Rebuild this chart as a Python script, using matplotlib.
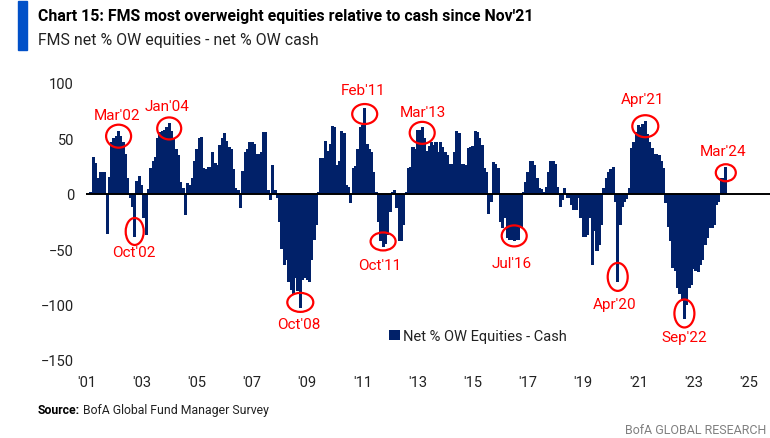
import matplotlib

matplotlib.use("Agg")
import matplotlib.pyplot as plt
import pandas as pd
from matplotlib.patches import Ellipse, Rectangle

plt.rcParams["font.family"] = ["Roboto", "DejaVu Sans"]

# monthly FMS net % OW equities minus net % OW cash, Mar 2001 .. Mar 2024
first_month = "2001-03-01"
last_month = "2024-03-01"
net_ow_eq_minus_cash = [
    2, 33, 28, 14, 20, 20, 20, -36, 15, 47,                      # 2001 (Mar-Dec)
    50, 52, 57, 52, 47, 36, 14, -4, -12, -39, 12, 16,            # 2002
    8, -22, -37, 4, 23, 30, 33, 50, 56, 57, 58, 60,              # 2003
    64, 57, 50, 40, 35, 11, 5, -19, 10, 8, 14, 30,               # 2004
    40, 50, 51, 23, 22, 24, 24, 38, 28, 26, 44, 50,              # 2005
    55, 48, 42, 40, 22, 5, 3, -13, 21, 38, 40, 47,               # 2006
    47, 45, 36, 36, 38, 56, 56, 3, -6, 26, 3, -4,                # 2007
    -25, -50, -64, -60, -80, -87, -91, -76, -88, -103, -78, -76, # 2008
    -78, -80, -60, -42, -28, 2, 32, 32, 48, 39, 45, 61,          # 2009
    60, 26, 30, 57, 55, 8, 6, -8, 23, 25, 40, 60,                # 2010
    62, 77, 45, 40, 38, 20, 2, -25, -43, -48, -45, -37,          # 2011
    -16, 2, 3, -13, -43, -43, -28, 2, 23, 24, 42, 40,            # 2012
    58, 58, 60, 50, 39, 43, 47, 44, 47, 38, 47, 42,              # 2013
    38, 35, 27, 27, 38, 57, 55, 27, 27, 26, 41, 42,              # 2014
    43, 57, 56, 50, 44, 23, 20, -18, -7, 29, 27, 23,             # 2015
    -25, -31, -22, -40, -42, -42, -43, -42, -42, -31, 2, 11,     # 2016
    20, 30, 30, 26, 14, 5, 4, 2, 6, 20, 30, 30,                  # 2017
    27, 6, -12, -6, 5, -4, -4, -10, -15, -15, -4, -22,           # 2018
    -39, -39, -37, -22, -64, -34, -52, -46, -28, 5, 14, 20,      # 2019
    22, 24, -7, -80, -28, -12, -7, -5, 5, 41, 47, 56,            # 2020
    62, 60, 63, 66, 54, 47, 41, 36, 36, 35, 30, 23,              # 2021
    -8, -30, -43, -67, -70, -85, -90, -97, -113, -100, -85, -82, # 2022
    -68, -70, -71, -64, -60, -46, -40, -31, -31, -28, -10, -7,   # 2023
    14, 14, 24,                                                  # 2024 (Jan-Mar)
]

callout_labels = ["Mar'02", "Oct'02", "Jan'04", "Oct'08", "Feb'11", "Oct'11",
                  "Mar'13", "Jul'16", "Apr'20", "Apr'21", "Sep'22", "Mar'24"]
callout_months = ["2002-03", "2002-10", "2004-01", "2008-10", "2011-02", "2011-10",
                  "2013-03", "2016-07", "2020-04", "2021-04", "2022-09", "2024-03"]
# ellipse size (px) and label offset (px) per callout
callout_size = [(25, 23), (18, 27), (24, 22), (26, 19), (25, 20), (25, 18),
                (25, 22), (25, 21), (20, 28), (26, 22), (20, 28), (20, 17)]
callout_offset = [(-2, 21), (-1, -21), (-2, 22), (-1, -22), (-2, 24), (-3, -24),
                  (1, 21), (-3, -27), (-3, -27), (-3, 27), (0, -24), (-3, 22)]

year_ticks = list(range(2001, 2026, 2))
year_tick_labels = ["'" + str(y)[2:] for y in year_ticks]

NAVY = "#012169"
RED = "#ff0000"
TXT = "#222222"

months = pd.date_range(first_month, last_month, freq="MS")
xs = months.year + (months.month - 1) / 12.0
series = pd.Series(net_ow_eq_minus_cash, index=months)

W, H = 770, 439
fig = plt.figure(figsize=(W / 100, H / 100), dpi=100)
x_lo, x_hi = 2001.0, 2025.75
ax_left, ax_right, ax_top, ax_bot = 86.4, 769.5, 84.0, 361.0
ax = fig.add_axes([ax_left / W, 1 - ax_bot / H, (ax_right - ax_left) / W, (ax_bot - ax_top) / H])

# bars slightly wider than a month so neighbours overlap and no seams show
bars = ax.bar(xs, series.values, width=1.35 / 12, color=NAVY, linewidth=0,
              label="Net % OW Equities - Cash")
ax.axhline(0, color="black", linewidth=1.4, zorder=3)

ax.set_xlim(x_lo, x_hi)
ax.set_ylim(-150, 100)
ax.set_yticks([100, 50, 0, -50, -100, -150])
ax.set_xticks(year_ticks)
ax.set_xticklabels(year_tick_labels)
ax.tick_params(axis="both", length=0, labelsize=10.5, labelcolor=TXT)
ax.tick_params(axis="y", pad=9)
ax.tick_params(axis="x", pad=11)
for s in ax.spines.values():
    s.set_visible(False)

# px -> data unit conversion for the ellipses
px_x = (ax_right - ax_left) / (x_hi - x_lo)
px_y = (ax_bot - ax_top) / 250.0
for label, mon, (w, h), (dx, dy) in zip(callout_labels, callout_months, callout_size, callout_offset):
    ts = pd.Timestamp(mon + "-01")
    val = series[ts]
    cx = ts.year + (ts.month - 1) / 12.0
    cy = val - (5 if val > 0 else -5)
    ax.add_patch(Ellipse((cx, cy), w / px_x, h / px_y, fill=False, edgecolor=RED,
                         linewidth=1.6, zorder=5, clip_on=False))
    ax.annotate(label, (cx, cy), xytext=(dx, dy), textcoords="offset pixels",
                ha="center", va="center", color=RED, fontsize=11, zorder=6)

leg = ax.legend(handles=[bars], loc="center left", frameon=False,
                bbox_to_anchor=(383 / W, 1 - 337 / H), bbox_transform=fig.transFigure,
                handlelength=0.75, handleheight=0.75, handletextpad=0.25,
                fontsize=10.5, borderaxespad=0)
for t in leg.get_texts():
    t.set_color(TXT)

# header
fig.patches.append(Rectangle((18 / W, 1 - 51 / H), 9 / W, 49 / H, transform=fig.transFigure,
                             color="#0050c8", zorder=2))
fig.text(38 / W, 1 - 16 / H, "Chart 15: FMS most overweight equities relative to cash since Nov'21",
         fontsize=11.4, fontweight="bold", color="black", va="center", ha="left")
fig.text(38 / W, 1 - 40 / H, "FMS net % OW equities - net % OW cash",
         fontsize=11.4, color=TXT, va="center", ha="left")

# footer
src = fig.text(38 / W, 1 - 411 / H, "Source:", fontsize=8.8, fontweight="bold",
               color="black", va="center", ha="left")
ax.annotate(" BofA Global Fund Manager Survey", xy=(1, 0.5), xycoords=src, va="center", ha="left",
            fontsize=8.8, color=TXT, annotation_clip=False)
fig.text(766 / W, 1 - 431 / H, "BofA GLOBAL RESEARCH", fontsize=9, color="#808080",
         va="center", ha="right")

fig.savefig("out.png", dpi=100)
